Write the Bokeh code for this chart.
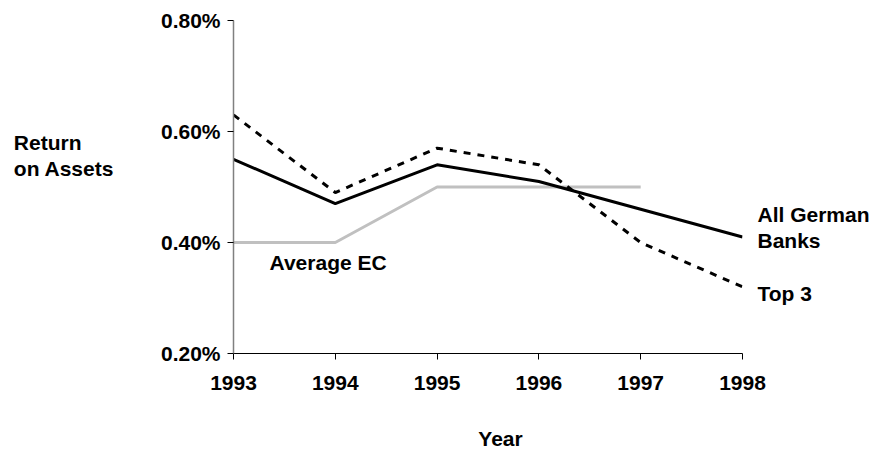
from bokeh.plotting import figure
from bokeh.models import FixedTicker, PrintfTickFormatter, Label
from bokeh.embed import file_html
from bokeh.resources import INLINE

years = [1993, 1994, 1995, 1996, 1997, 1998]
all_german = [0.55, 0.47, 0.54, 0.51, 0.46, 0.41]
top3 = [0.63, 0.49, 0.57, 0.54, 0.40, 0.32]
avg_ec_years = [1993, 1994, 1995, 1996, 1997]
avg_ec = [0.40, 0.40, 0.50, 0.50, 0.50]
y_ticks = [0.20, 0.40, 0.60, 0.80]

FONT = "Liberation Sans"
FS = "21px"

p = figure(width=872, height=449, output_backend="svg", toolbar_location=None,
           x_range=(1993, 1998), y_range=(0.20, 0.80),
           min_border_left=233, min_border_right=130, min_border_top=20, min_border_bottom=96)
p.outline_line_color = None
p.xgrid.visible = False
p.ygrid.visible = False
p.background_fill_color = "white"

p.line(avg_ec_years, avg_ec, line_color="#c0c0c0", line_width=3)
p.line(years, all_german, line_color="black", line_width=3)
p.line(years, top3, line_color="black", line_width=3, line_dash="7 7")

# axes
p.yaxis.ticker = FixedTicker(ticks=y_ticks)
p.yaxis.formatter = PrintfTickFormatter(format="%.2f%%")
p.yaxis.axis_line_color = "#808080"
p.yaxis.axis_line_width = 1.5
p.yaxis.major_tick_line_color = "black"
p.yaxis.major_tick_out = 6
p.yaxis.major_tick_in = 0
p.yaxis.minor_tick_line_color = None
p.yaxis.major_label_standoff = 7

p.xaxis.ticker = FixedTicker(ticks=years)
p.xaxis.axis_line_color = "black"
p.xaxis.axis_line_width = 1
p.xaxis.major_tick_line_color = "black"
p.xaxis.major_tick_out = 6
p.xaxis.major_tick_in = 0
p.xaxis.minor_tick_line_color = None
p.xaxis.major_label_standoff = 16

for ax in (p.xaxis, p.yaxis):
    ax.major_label_text_font = FONT
    ax.major_label_text_font_size = FS
    ax.major_label_text_font_style = "bold"
    ax.major_label_text_color = "black"

def lab(x, y, text, place=None, align="left"):
    l = Label(x=x, y=y, text=text, text_font=FONT, text_font_size=FS,
              text_font_style="bold", text_color="black", text_line_height=1.16,
              text_align=align, text_baseline="middle")
    if place is None:
        p.add_layout(l)
    else:
        p.add_layout(l, place)

lab(1993.354, 0.3645, "Average EC")
# labels lying outside the plotting frame are put in side panels (not clipped)
lab(1998.147, 0.427, "All German\nBanks", "right")
lab(1998.147, 0.3081, "Top 3", "left")
lab(1990.842, 0.557, "Return\non Assets", "left")
lab(1995.623, 0.0477, "Year", "below", align="center")

open("out.html", "w").write(file_html(p, INLINE))
